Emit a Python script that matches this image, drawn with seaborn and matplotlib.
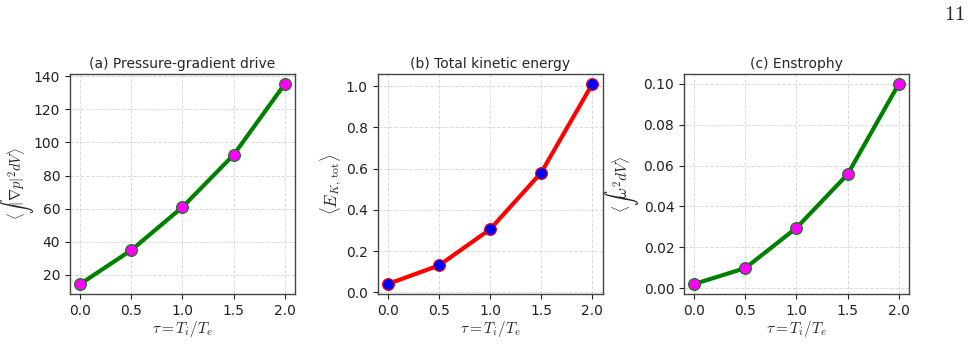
import numpy as np
import pandas as pd
import matplotlib
matplotlib.use("Agg")
import matplotlib.pyplot as plt
import seaborn as sns

# values
tau = [0.0, 0.5, 1.0, 1.5, 2.0]
grad_p = [14.5, 35.0, 61.0, 92.5, 135.3]
kinetic = [0.040, 0.130, 0.305, 0.580, 1.010]
enstrophy = [0.0020, 0.0098, 0.0295, 0.0557, 0.0999]

titles = ["(a) Pressure-gradient drive", "(b) Total kinetic energy", "(c) Enstrophy"]
ylabels = [r"$\langle\int|\nabla p|^2 dV\rangle$",
           r"$\langle E_{K,\,\mathrm{tot}}\rangle$",
           r"$\langle\int\omega^2 dV\rangle$"]
ylabel_sizes = [10.5, 12, 11]
line_colors = ["green", "red", "green"]
marker_colors = ["magenta", "blue", "magenta"]

sns.set_style("ticks")
plt.rcParams["font.family"] = ["DejaVu Sans"]
plt.rcParams["mathtext.fontset"] = "cm"

fig = plt.figure(figsize=(9.71, 3.63), dpi=100)
lefts = [0.0721, 0.3888, 0.7044]
series = [grad_p, kinetic, enstrophy]

for i in range(3):
    ax = fig.add_axes([lefts[i], 0.19, 0.2317, 0.606])
    df = pd.DataFrame({"tau": tau, "val": series[i]})
    sns.lineplot(data=df, x="tau", y="val", ax=ax, color=line_colors[i], lw=3,
                 marker="o", markersize=8.5, markerfacecolor=marker_colors[i],
                 markeredgecolor=line_colors[i], markeredgewidth=0.8)
    ax.set_title(titles[i], fontsize=10, pad=4)
    ax.set_xlabel(r"$\tau = T_i/T_e$", fontsize=11, labelpad=1)
    ax.set_ylabel(ylabels[i], fontsize=ylabel_sizes[i], labelpad=1.5)
    ax.set_xticks([0.0, 0.5, 1.0, 1.5, 2.0])
    ax.tick_params(labelsize=10, colors="#222222")
    ax.grid(True, ls="--", color="#cccccc", alpha=0.7, lw=0.7)
    for s in ax.spines.values():
        s.set_color("#444444")
        s.set_linewidth(1.0)
    if i == 0:
        ax.yaxis.set_label_coords(-0.15, 0.5)

fig.text(0.994, 0.988, r"$11$", ha="right", va="top", fontsize=15)

fig.savefig("out.png", dpi=100)
